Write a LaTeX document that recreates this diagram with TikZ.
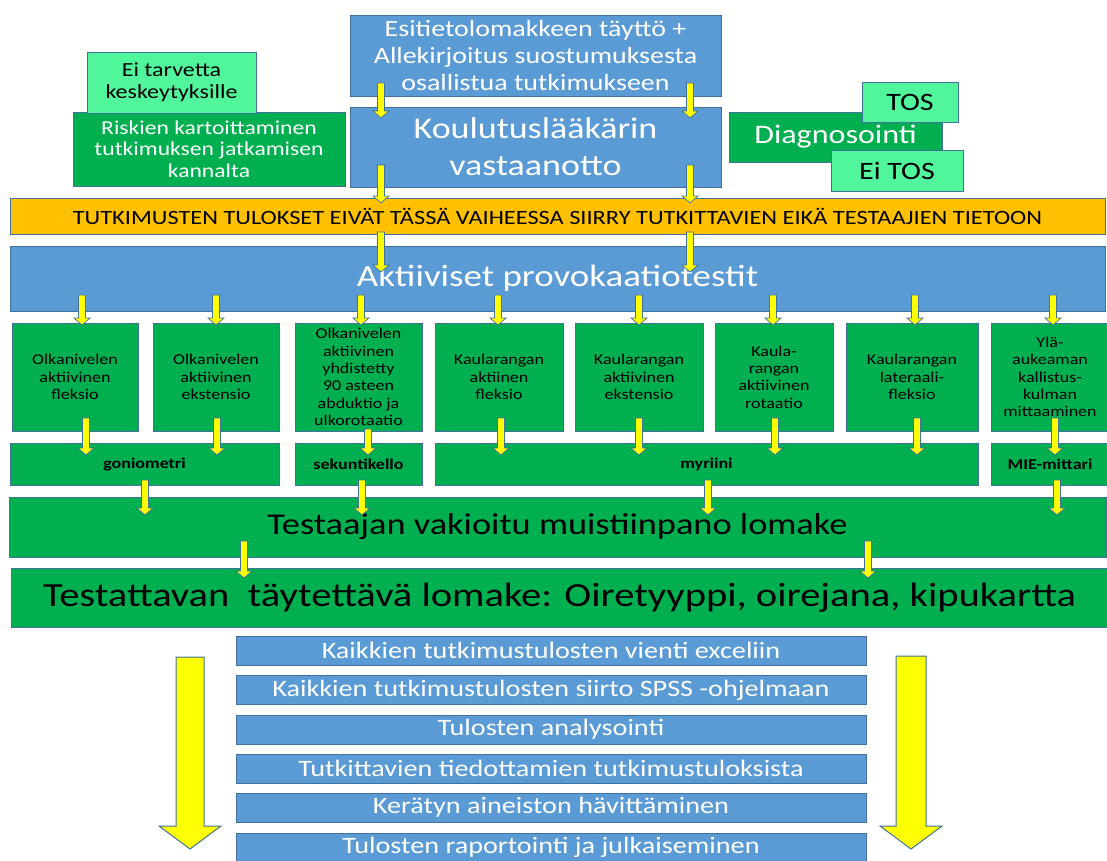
\documentclass[tikz,border=0pt]{standalone}
\usepackage{fontspec}
\setmainfont[FakeStretch=1.2]{Carlito}
\definecolor{blu}{HTML}{5B9BD5}
\definecolor{bord}{HTML}{41719C}
\definecolor{grn}{HTML}{00B050}
\definecolor{lgrn}{HTML}{50F59C}
\definecolor{org}{HTML}{FFC000}
\definecolor{yel}{HTML}{FFFF00}
\newcommand\fsz[2]{\fontsize{#1}{#2}\selectfont}
% small yellow block arrow: x, y-start, y-tip
\newcommand\yarr[3]{%
  \filldraw[fill=yel,draw=bord,line width=0.7pt]
    (#1-3.5,#2) -- (#1+3.5,#2) -- (#1+3.5,#3-7) -- (#1+8,#3-7) -- (#1,#3)
    -- (#1-8,#3-7) -- (#1-3.5,#3-7) -- cycle;}
\begin{document}
\begin{tikzpicture}[x=1pt,y=-1pt,
  bx/.style={draw=bord, line width=1pt, inner sep=0pt, outer sep=0pt, align=center},
  bluebox/.style={bx, fill=blu, text=white},
  gbox/.style={bx, fill=grn, text=white},
  lbox/.style={bx, fill=lgrn, text=black},
  tbox/.style={bx, fill=grn, text=black, font=\fsz{15}{17.3}, minimum height=108pt},
  mbox/.style={bx, fill=grn, text=black, font=\bfseries\fsz{15}{17}, minimum height=42pt},
  lst/.style={bx, fill=blu, text=white, font=\fsz{23.5}{26}, minimum width=630pt, minimum height=29pt},
  bigarr/.style={fill=yel, draw=bord, line width=1pt}]
\useasboundingbox (0,0) rectangle (1107,860);
\clip (0,0) rectangle (1107,860);

% top section
\node[bluebox, font=\fsz{23.3}{27}, minimum width=371pt, minimum height=81pt] (esi) at (535.5,55.5)
  {Esitietolomakkeen täyttö +\\Allekirjoitus suostumuksesta\\osallistua tutkimukseen};
\node[bluebox, font=\fsz{30}{37}, minimum width=371pt, minimum height=80pt] (kou) at (535.5,147)
  {Koulutuslääkärin\\vastaanotto};
\node[gbox, font=\fsz{19.7}{21.5}, minimum width=272pt, minimum height=74pt] (ris) at (209,149)
  {Riskien kartoittaminen\\tutkimuksen jatkamisen\\kannalta};
\node[lbox, font=\fsz{20}{22}, minimum width=169pt, minimum height=61pt] (ei) at (171.5,82.5)
  {Ei tarvetta\\keskeytyksille};
\node[gbox, font=\fsz{26.7}{30}, minimum width=213pt, minimum height=50pt] (diag) at (835.5,137)
  {Diagnosointi};
\node[lbox, font=\fsz{25}{28}, minimum width=96pt, minimum height=40pt] (tos) at (910,102) {TOS};
\node[lbox, font=\fsz{25}{28}, minimum width=132pt, minimum height=41pt] (eitos) at (897,170.5) {Ei TOS};

% banners
\node[bx, fill=org, text=black, font=\fsz{20.3}{22}, minimum width=1095pt, minimum height=36pt] (ban) at (557.5,216)
  {TUTKIMUSTEN TULOKSET EIVÄT TÄSSÄ VAIHEESSA SIIRRY TUTKITTAVIEN EIKÄ TESTAAJIEN TIETOON};
\node[bluebox, font=\fsz{30.8}{32}, minimum width=1095pt, minimum height=65pt] (akt) at (557.5,278.5)
  {Aktiiviset provokaatiotestit};

% test boxes
\node[tbox, minimum width=126pt] (b1) at (75,377) {Olkanivelen\\aktiivinen\\fleksio};
\node[tbox, minimum width=126pt] (b2) at (216,377) {Olkanivelen\\aktiivinen\\ekstensio};
\node[tbox, minimum width=127pt] (b3) at (358.5,377) {Olkanivelen\\aktiivinen\\yhdistetty\\90 asteen\\abduktio ja\\ulkorotaatio};
\node[tbox, minimum width=128pt] (b4) at (499,377) {Kaularangan\\aktiinen\\fleksio};
\node[tbox, minimum width=128pt] (b5) at (639,377) {Kaularangan\\aktiivinen\\ekstensio};
\node[tbox, minimum width=118pt] (b6) at (774,377) {Kaula-\\rangan\\aktiivinen\\rotaatio};
\node[tbox, minimum width=132pt] (b7) at (912,377) {Kaularangan\\lateraali-\\fleksio};
\node[tbox, minimum width=118pt] (b8) at (1050,377) {Ylä-\\aukeaman\\kallistus-\\kulman\\mittaaminen};

% measuring row
\node[mbox, minimum width=269pt] (gon) at (144.5,464) {goniometri};
\node[mbox, minimum width=127pt] (sek) at (358.5,464) {sekuntikello};
\node[mbox, minimum width=543pt] (myr) at (706.5,464) {myriini};
\node[mbox, minimum width=118pt] (mie) at (1050,464) {MIE-mittari};

% forms
\node[bx, fill=grn, text=black, font=\fsz{30.3}{32}, minimum width=1097pt, minimum height=60pt] (tes) at (557.5,527)
  {Testaajan vakioitu muistiinpano lomake};
\node[bx, fill=grn, text=black, font=\fsz{33.8}{35}, minimum width=1097pt, minimum height=59pt] (tet) at (559.5,597.5)
  {Testattavan\ \ täytettävä lomake: Oiretyyppi, oirejana, kipukartta};

% list
\node[lst] (l1) at (551,650.5) {Kaikkien tutkimustulosten vienti exceliin};
\node[lst] (l2) at (551,690) {Kaikkien tutkimustulosten siirto SPSS -ohjelmaan};
\node[lst] (l3) at (551,729.5) {Tulosten analysointi};
\node[lst] (l4) at (551,768.5) {Tutkittavien tiedottamien tutkimustuloksista};
\node[lst] (l5) at (551,807.5) {Kerätyn aineiston hävittäminen};
\node[lst] (l6) at (551,847.5) {Tulosten raportointi ja julkaiseminen};

% big arrows
\filldraw[bigarr] (176,657) -- (204,657) -- (204,826) -- (221,826) -- (190,849) -- (159,826) -- (176,826) -- cycle;
\filldraw[bigarr] (896,656) -- (926,656) -- (926,826) -- (942,826) -- (911,849) -- (880,826) -- (896,826) -- cycle;

% small arrows
\yarr{381}{83}{118}\yarr{690}{83}{118}
\yarr{381}{165}{203}\yarr{690}{165}{203}
\yarr{381}{232}{272}\yarr{690}{232}{272}
\foreach \x in {82,216,361,498,639,773,915,1053}{\yarr{\x}{295}{325}}
\foreach \x in {86,217,501,639,775,917,1055}{\yarr{\x}{418}{455}}
\yarr{368}{429}{455}
\foreach \x in {145,362,708,1057}{\yarr{\x}{480}{515}}
\yarr{244}{541}{578}\yarr{868}{541}{578}
\end{tikzpicture}
\end{document}
